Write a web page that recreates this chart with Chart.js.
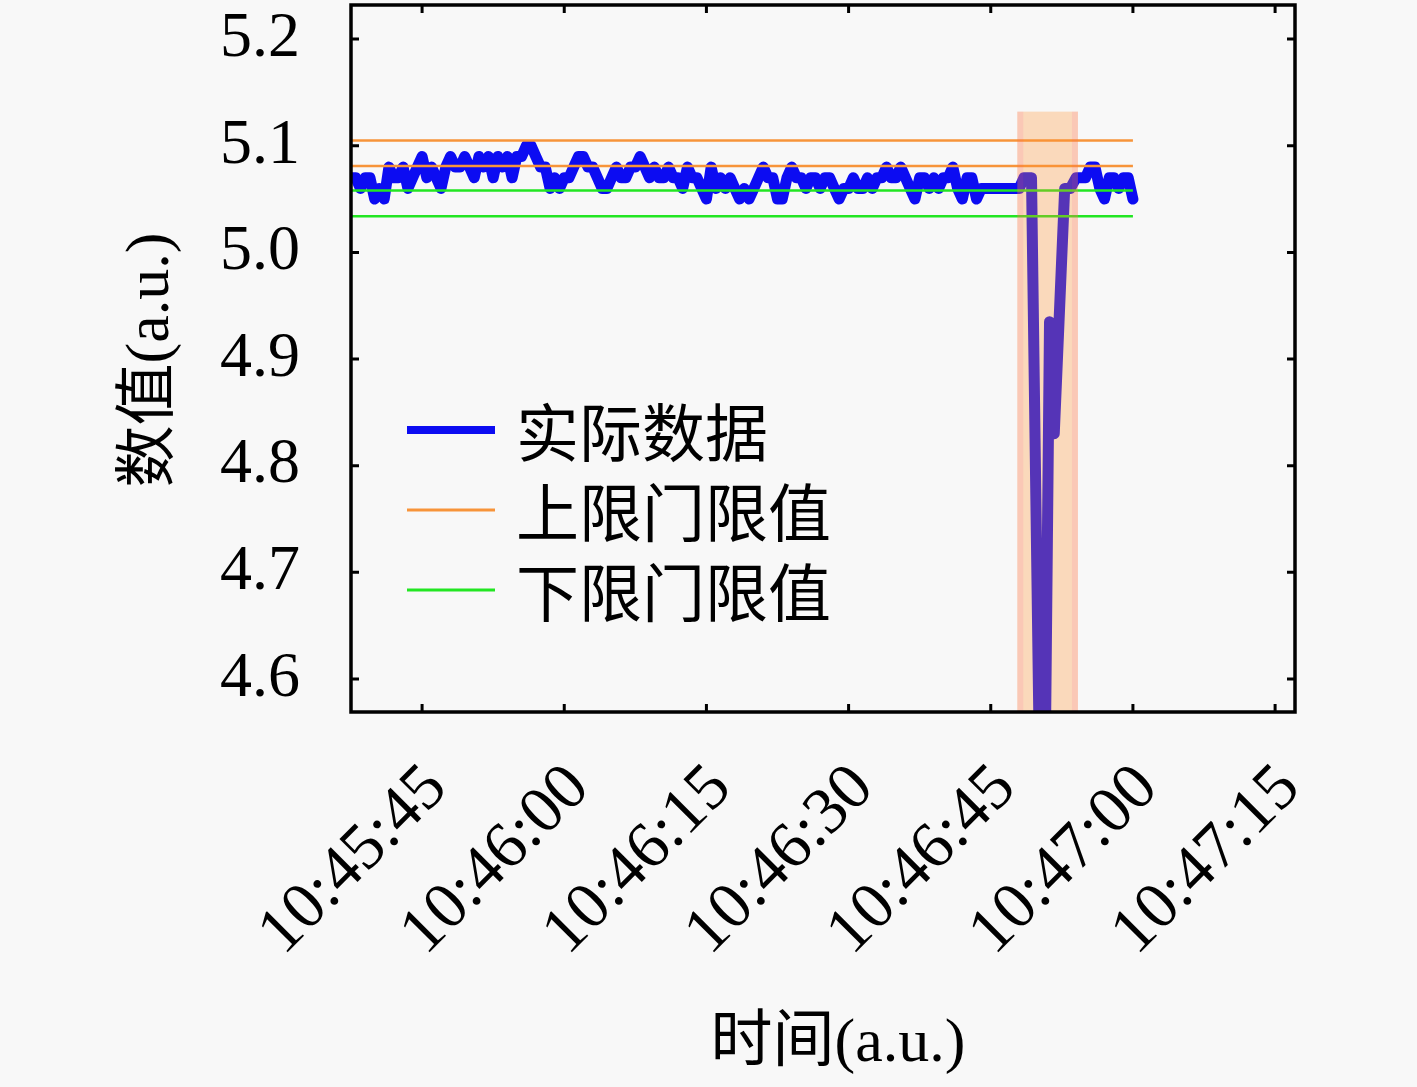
<!DOCTYPE html>
<html>
<head>
<meta charset="utf-8">
<script src="https://cdn.jsdelivr.net/npm/chart.js@4.4.1/dist/chart.umd.min.js"></script>
<style>
  html, body { margin: 0; padding: 0; background: #f8f8f8; }
  canvas { display: block; }
</style>
</head>
<body>
<canvas id="chart" width="1417" height="1087"></canvas>
<script>
// Data (time in seconds after 10:45:00)
const times = [
  37.5, 38, 38.5, 39, 39.5, 40, 40.5, 41, 41.5, 42,
  42.5, 43, 43.5, 44, 44.5, 45, 45.5, 46, 46.5, 47,
  47.5, 48, 48.5, 49, 49.5, 50, 50.5, 51, 51.5, 52,
  52.5, 53, 53.5, 54, 54.5, 55, 55.5, 56, 56.5, 57,
  57.5, 58, 58.5, 59, 59.5, 60, 60.5, 61, 61.5, 62,
  62.5, 63, 63.5, 64, 64.5, 65, 65.5, 66, 66.5, 67,
  67.5, 68, 68.5, 69, 69.5, 70, 70.5, 71, 71.5, 72,
  72.5, 73, 73.5, 74, 74.5, 75, 75.5, 76, 76.5, 77,
  77.5, 78, 78.5, 79, 79.5, 80, 80.5, 81, 81.5, 82,
  82.5, 83, 83.5, 84, 84.5, 85, 85.5, 86, 86.5, 87,
  87.5, 88, 88.5, 89, 89.5, 90, 90.5, 91, 91.5, 92,
  92.5, 93, 93.5, 94, 94.5, 95, 95.5, 96, 96.5, 97,
  97.5, 98, 98.5, 99, 99.5, 100, 100.5, 101, 101.5, 102,
  102.5, 103, 103.5, 104,
  108, 108.5, 109.3, 110.2, 110.7, 111.2, 111.7, 112.8, 113.4,
  114, 114.5, 115, 115.5, 116, 116.5, 117, 117.5, 118, 118.5,
  119, 119.5, 120
];
const values = [
  5.07, 5.07, 5.06, 5.07, 5.07, 5.05, 5.06, 5.05, 5.08, 5.07,
  5.07, 5.08, 5.06, 5.07, 5.08, 5.09, 5.07, 5.08, 5.07, 5.06,
  5.08, 5.09, 5.08, 5.08, 5.09, 5.08, 5.07, 5.09, 5.08, 5.09,
  5.07, 5.09, 5.08, 5.09, 5.07, 5.09, 5.09, 5.10, 5.10, 5.09,
  5.08, 5.08, 5.06, 5.07, 5.06, 5.07, 5.07, 5.08, 5.09, 5.09,
  5.08, 5.08, 5.07, 5.06, 5.06, 5.07, 5.08, 5.07, 5.07, 5.08,
  5.08, 5.09, 5.08, 5.07, 5.08, 5.07, 5.07, 5.08, 5.07, 5.07,
  5.06, 5.08, 5.07, 5.07, 5.06, 5.05, 5.08, 5.06, 5.07, 5.06,
  5.07, 5.06, 5.05, 5.06, 5.05, 5.06, 5.07, 5.08, 5.07, 5.07,
  5.05, 5.05, 5.07, 5.08, 5.07, 5.07, 5.06, 5.07, 5.07, 5.06,
  5.07, 5.07, 5.06, 5.05, 5.06, 5.06, 5.07, 5.06, 5.06, 5.07,
  5.06, 5.07, 5.07, 5.08, 5.07, 5.07, 5.08, 5.07, 5.06, 5.05,
  5.07, 5.07, 5.06, 5.07, 5.06, 5.07, 5.07, 5.08, 5.06, 5.05,
  5.07, 5.07, 5.05, 5.06,
  5.06, 5.07, 5.07, 4.48, 4.48, 4.935, 4.83, 5.06, 5.06,
  5.07, 5.07, 5.07, 5.08, 5.08, 5.06, 5.05, 5.07, 5.07, 5.06,
  5.07, 5.07, 5.05
];

// Threshold lines
const lineSpan = [37.5, 120];
const upperLimits = [5.105, 5.081];
const lowerLimits = [5.058, 5.034];

// Shaded anomaly window
const shadeSpan = [107.8, 114.2];
const shadeTop = 5.132;

// Axes
const xTickValues = [45, 60, 75, 90, 105, 120, 135];
const xTickLabels = ["10:45:45", "10:46:00", "10:46:15", "10:46:30", "10:46:45", "10:47:00", "10:47:15"];
const yTickValues = [4.6, 4.7, 4.8, 4.9, 5.0, 5.1, 5.2];

const legendNames = ["实际数据", "上限门限值", "下限门限值"];
const xTitle = "时间(a.u.)";
const yTitle = "数值(a.u.)";

const BLUE = "#0c0cf2";
const ORANGE = "#f7943a";
const GREEN = "#22e622";
const SERIF = "'Liberation Serif', 'Noto Sans CJK SC', serif";
const CJK = "'Noto Sans CJK SC', 'Liberation Serif', sans-serif";

function limitLine(v, color) {
  return {
    data: [{ x: lineSpan[0], y: v }, { x: lineSpan[1], y: v }],
    borderColor: color,
    borderWidth: 2.5,
    pointRadius: 0,
    order: 1,
  };
}

const datasets = [
  ...upperLimits.map((v) => limitLine(v, ORANGE)),
  ...lowerLimits.map((v) => limitLine(v, GREEN)),
  {
    data: times.map((t, i) => ({ x: t, y: values[i] })),
    borderColor: BLUE,
    borderWidth: 11,
    borderJoinStyle: "round",
    borderCapStyle: "round",
    pointRadius: 0,
    order: 2,
  },
];

function noPadding(s) {
  s.paddingTop = 0;
  s.paddingBottom = 0;
  s.paddingLeft = 0;
  s.paddingRight = 0;
}

// background, shading, frame, ticks, legend and titles
const decorations = {
  id: "decorations",
  beforeDraw(chart) {
    const ctx = chart.ctx;
    ctx.save();
    ctx.fillStyle = "#f8f8f8";
    ctx.fillRect(0, 0, chart.width, chart.height);
    ctx.restore();
  },
  afterDatasetsDraw(chart) {
    const ctx = chart.ctx;
    const x = chart.scales.x;
    const y = chart.scales.y;
    const area = chart.chartArea;
    const x0 = x.getPixelForValue(shadeSpan[0]);
    const x1 = x.getPixelForValue(shadeSpan[1]);
    const y0 = y.getPixelForValue(shadeTop);
    ctx.save();
    ctx.fillStyle = "rgba(255,147,47,0.3)";
    ctx.fillRect(x0, y0, x1 - x0, area.bottom - y0);
    ctx.fillStyle = "rgba(255,60,140,0.1)";
    ctx.fillRect(x0, y0, 6, area.bottom - y0);
    ctx.fillRect(x1 - 6, y0, 6, area.bottom - y0);
    ctx.restore();
  },
  afterDraw(chart) {
    const ctx = chart.ctx;
    const x = chart.scales.x;
    const y = chart.scales.y;
    const { left, top, right, bottom } = chart.chartArea;
    ctx.save();
    ctx.strokeStyle = "#000";
    ctx.lineWidth = 3.5;
    ctx.strokeRect(left, top, right - left, bottom - top);

    ctx.lineWidth = 3;
    ctx.beginPath();
    xTickValues.forEach((v) => {
      const px = x.getPixelForValue(v);
      ctx.moveTo(px, bottom);
      ctx.lineTo(px, bottom - 8);
      ctx.moveTo(px, top);
      ctx.lineTo(px, top + 8);
    });
    yTickValues.forEach((v) => {
      const py = y.getPixelForValue(v);
      ctx.moveTo(left, py);
      ctx.lineTo(left + 8, py);
      ctx.moveTo(right, py);
      ctx.lineTo(right - 8, py);
    });
    ctx.stroke();

    // legend
    const colors = [BLUE, ORANGE, GREEN];
    const widths = [8, 3, 3];
    ctx.font = "63px " + CJK;
    ctx.textBaseline = "middle";
    ctx.textAlign = "left";
    legendNames.forEach((name, i) => {
      const ly = 430 + i * 80;
      ctx.strokeStyle = colors[i];
      ctx.lineWidth = widths[i];
      ctx.beginPath();
      ctx.moveTo(407, ly);
      ctx.lineTo(495, ly);
      ctx.stroke();
      ctx.fillStyle = "#000";
      ctx.fillText(name, 516, ly + 2);
    });

    // axis titles
    ctx.font = "62px " + SERIF;
    ctx.textAlign = "center";
    ctx.fillText(xTitle, 838, 1045);
    ctx.translate(152, 360);
    ctx.rotate(-Math.PI / 2);
    ctx.fillText(yTitle, 0, 0);
    ctx.restore();
  },
};

new Chart(document.getElementById("chart"), {
  type: "line",
  data: { datasets: datasets },
  options: {
    responsive: false,
    devicePixelRatio: 1,
    animation: false,
    layout: { padding: { top: 5, right: 122, left: 0, bottom: 0 } },
    plugins: { legend: { display: false }, tooltip: { enabled: false } },
    scales: {
      x: {
        type: "linear",
        min: 37.5,
        max: 137.1,
        grid: { display: false, drawTicks: false },
        border: { display: false },
        afterBuildTicks: (s) => {
          s.ticks = xTickValues.map((v) => ({ value: v }));
        },
        afterFit: (s) => {
          s.height = 375;
          noPadding(s);
        },
        ticks: {
          autoSkip: false,
          minRotation: 45,
          maxRotation: 45,
          padding: 38,
          labelOffset: 15,
          color: "#000",
          font: { family: SERIF, size: 66 },
          callback: (v) => xTickLabels[xTickValues.indexOf(v)],
        },
      },
      y: {
        min: 4.569,
        max: 5.232,
        grid: { display: false, drawTicks: false },
        border: { display: false },
        afterBuildTicks: (s) => {
          s.ticks = yTickValues.map((v) => ({ value: v }));
        },
        afterFit: (s) => {
          s.width = 351;
          noPadding(s);
        },
        ticks: {
          padding: 51,
          color: "#000",
          font: { family: SERIF, size: 64 },
          callback: (v) => v.toFixed(1),
        },
      },
    },
  },
  plugins: [decorations],
});
</script>
</body>
</html>
